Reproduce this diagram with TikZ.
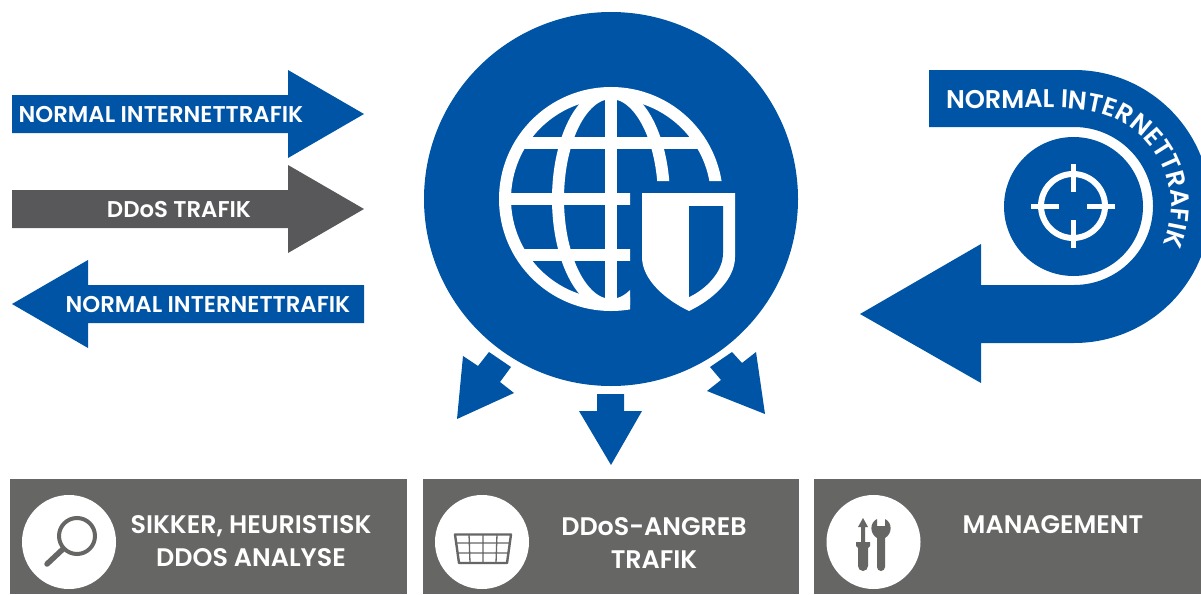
\documentclass[tikz,border=0pt]{standalone}
\usepackage{fontspec}
\setmainfont{Poppins}[BoldFont={Poppins SemiBold}]
\usetikzlibrary{decorations.text}
\definecolor{blu}{HTML}{0054A6}
\definecolor{dgr}{HTML}{58585A}
\definecolor{bgr}{HTML}{666665}
\tikzset{
  lab/.style={text=white,font=\fontsize{22.8}{26}\selectfont\bfseries,inner sep=0pt},
  boxlab/.style={text=white,font=\fontsize{25.4}{33}\selectfont\bfseries,inner sep=0pt,align=center},
  box/.style={fill=bgr,draw=none},
  disc/.style={fill=white,draw=none},
  wline/.style={draw=white,line width=12pt},
  gline/.style={draw=bgr,line cap=round}
}
\begin{document}
\begin{tikzpicture}[x=1pt,y=-1pt]
\useasboundingbox (0,0) rectangle (1201,594);
% left arrows
\fill[blu] (12,95)--(288,95)--(288,70)--(364,114)--(288,158)--(288,133)--(12,133)--cycle;
\node[lab] (n1) at (161,114.7) {NORMAL INTERNETTRAFIK};
\fill[dgr] (12,190)--(288,190)--(288,165)--(364,209)--(288,253)--(288,228)--(12,228)--cycle;
\node[lab] (n2) at (179,209.7) {DDoS TRAFIK};
\fill[blu] (364,285)--(88,285)--(88,260)--(12,304)--(88,348)--(88,323)--(364,323)--cycle;
\node[lab] (n3) at (208,304.5) {NORMAL INTERNETTRAFIK};
% main circle
\fill[blu] (611,199) circle[radius=187];
% globe
\begin{scope}
\clip (490,80)--(735,80)--(735,181)--(630,181)--(630,320)--(490,320)--cycle;
\draw[wline] (611,199) circle[radius=106];
\draw[wline] (611,199) ellipse[x radius=53,y radius=106];
\draw[wline] (611,93)--(611,305);
\begin{scope}
\clip (611,199) circle[radius=106];
\draw[wline] (500,143)--(725,143);
\draw[wline] (500,199)--(725,199);
\draw[wline] (500,255)--(725,255);
\end{scope}
\end{scope}
% shield
\fill[white] (642,193)--(735,193)--(735,257) .. controls (735,280) and (712,300) .. (689,311) .. controls (666,300) and (642,280) .. (642,257)--cycle;
\fill[blu] (689,206)--(723,206)--(723,253) .. controls (723,272) and (706,289) .. (689,297)--cycle;
% down arrows
\fill[blu] (489,352)--(511,367)--(500,382)--(514,393)--(457,419)--(463,356)--(478,366)--cycle;
\fill[blu] (597,394)--(624,394)--(624,411)--(642,411)--(611,465)--(579,411)--(597,411)--cycle;
\fill[blu] (732,352)--(742,363)--(756,352)--(765,414)--(707,391)--(721,380)--(710,367)--cycle;
% U-turn arrow
\begin{scope}
\clip (0,0) rectangle (1201,594);
\fill[blu] (929,70)--(1074,70) arc[start angle=-90,end angle=90,radius=136.5]
  --(981,343)--(981,383)--(860,314)--(981,244)--(981,285)--(1074,285)
  arc[start angle=90,end angle=-90,radius=79]--(929,127)--cycle;
\end{scope}
\fill[blu] (1073.5,206.5) circle[radius=69.5];
\draw[white,line width=6pt] (1073,206) circle[radius=32];
\draw[white,line width=5pt] (1073,164)--(1073,192) (1073,220)--(1073,248) (1031,206)--(1059,206) (1087,206)--(1115,206);
\path[postaction={decorate},decoration={text along path,text align=left,
  text={|\fontsize{25.6}{28}\selectfont\bfseries\color{white}|NORMAL INTERNETTRAFIK}}]
  (946,108)--(1010,108) .. controls (1050,108) and (1092,104.5) .. (1122.5,122) arc[start angle=-60,end angle=40,radius=97];
% bottom boxes
\fill[box] (10,479) rectangle (407,594);
\fill[box] (423,479) rectangle (799,594);
\fill[box] (814,479) rectangle (1201,594);
\node[disc,circle,minimum size=94pt] (d1) at (69,542) {};
\node[disc,circle,minimum size=94pt] (d2) at (482,542) {};
\node[disc,circle,minimum size=94pt] (d3) at (873.5,542) {};
\node[boxlab] (t1) at (251,541.5) {SIKKER, HEURISTISK\\DDOS ANALYSE};
\node[boxlab] (t2) at (654,543) {DDoS-ANGREB\\TRAFIK};
\node[boxlab] (t3) at (1053,525) {MANAGEMENT};
% magnifier
\draw[bgr,line width=4pt] (77,536) circle[radius=18];
\draw[gline,line width=5.5pt] (47,564)--(63,549);
% basket
\draw[bgr,line width=2.4pt,line join=round] (455,534.5)--(511,534.5)--(507,563)--(459,563)--cycle;
\draw[bgr,line width=1.3pt] (456,543)--(510,543) (457,553)--(509,553)
 (469,534)--(470,563) (483,534)--(483,563) (497,534)--(496,563);
% tools
\fill[bgr] (863,518)--(868,527)--(865,527)--(865,542)--(870,542)--(870,546)--(868,548)--(868,566) arc[start angle=0,end angle=180,radius=5]--(858,548)--(856,546)--(856,542)--(861,542)--(861,527)--(858,527)--cycle;
\fill[bgr] (885,567) arc[start angle=0,end angle=180,radius=4]--(877,538) .. controls (870,534) and (869,523) .. (877,519)--(877,526)--(885,526)--(885,519) .. controls (893,523) and (892,534) .. (885,538)--cycle;
\end{tikzpicture}
\end{document}
